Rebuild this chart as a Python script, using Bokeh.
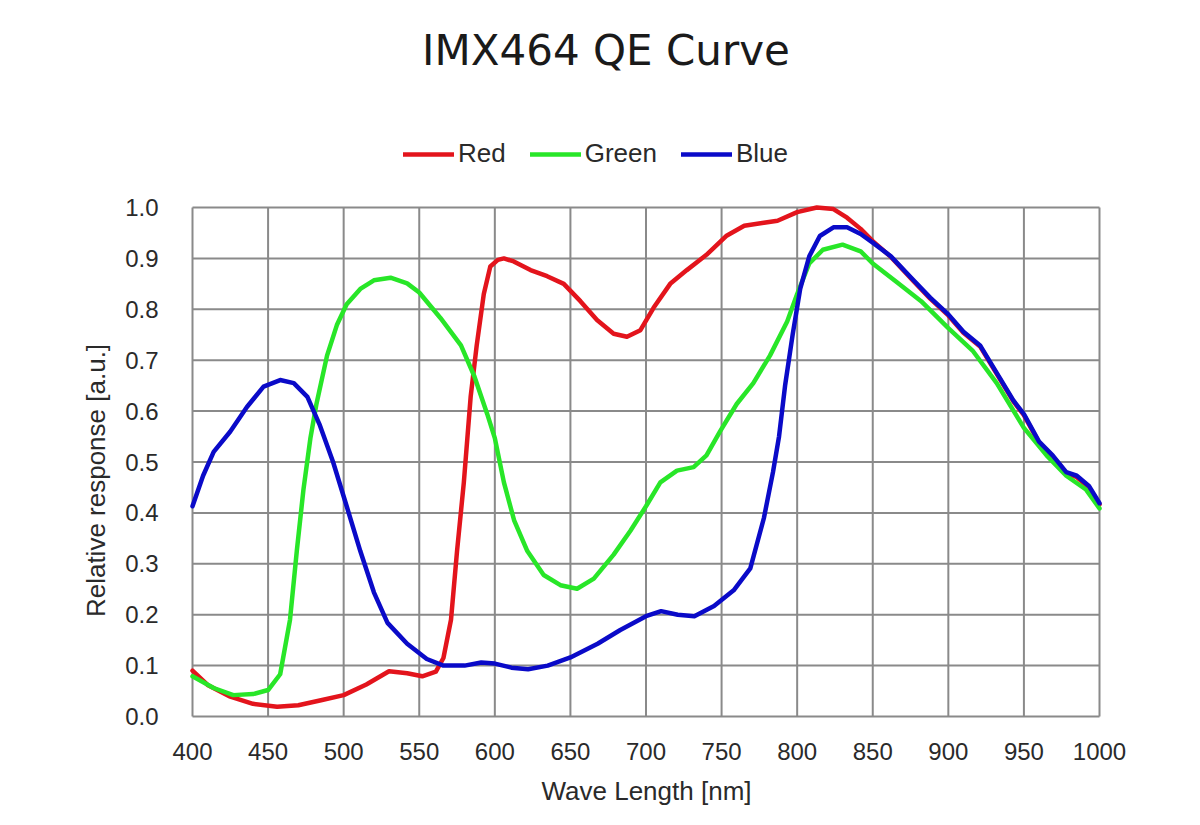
import math
from bokeh.plotting import figure
from bokeh.models import Range1d, Legend, LegendItem, ColumnDataSource
from bokeh.embed import file_html
from bokeh.resources import INLINE

title_text = "IMX464 QE Curve"
x_label = "Wave Length [nm]"
y_label = "Relative response [a.u.]"
x_ticks = [400, 450, 500, 550, 600, 650, 700, 750, 800, 850, 900, 950, 1000]
y_ticks = [0.0, 0.1, 0.2, 0.3, 0.4, 0.5, 0.6, 0.7, 0.8, 0.9, 1.0]

red_nm = [400, 410, 425, 440, 456, 470, 485, 500, 515, 530, 542, 552, 561, 566, 571, 575,
          579.5, 584, 588, 592.7, 597, 602, 606, 612.5, 623.6, 634.6, 645.6, 656.6, 667.6,
          678.6, 687.4, 696.3, 705, 716, 727, 740, 753, 765, 778, 787, 800, 813, 824, 833,
          842, 850, 862, 877, 888, 900, 910, 921, 932, 943, 950, 960, 969, 978, 985, 993, 1000]
red_qe = [0.09, 0.062, 0.039, 0.025, 0.019, 0.022, 0.032, 0.042, 0.063, 0.089, 0.085, 0.079,
          0.088, 0.115, 0.19, 0.325, 0.46, 0.628, 0.729, 0.83, 0.884, 0.897, 0.9, 0.894, 0.877,
          0.865, 0.85, 0.816, 0.779, 0.752, 0.746, 0.759, 0.803, 0.85, 0.877, 0.907, 0.944,
          0.964, 0.97, 0.974, 0.991, 1.0, 0.997, 0.98, 0.958, 0.934, 0.903, 0.855, 0.821,
          0.788, 0.754, 0.727, 0.673, 0.619, 0.592, 0.538, 0.511, 0.478, 0.47, 0.45, 0.417]

green_nm = [400, 414, 427, 440, 450, 458, 464.5, 469, 473.4, 478, 482, 489, 495.5, 502, 511,
            520, 531, 542, 550, 564, 577.6, 586.5, 595, 600, 606, 612.7, 621.5, 632.3, 643.4,
            654.4, 665.5, 678.6, 689.7, 700, 709.5, 720.5, 731.5, 740, 749, 760, 771, 782,
            793.4, 800, 808, 817, 830, 842, 850, 866, 882, 900, 916, 932, 950, 965, 978, 991, 1000]
green_qe = [0.079, 0.056, 0.042, 0.044, 0.052, 0.083, 0.19, 0.325, 0.446, 0.547, 0.614, 0.709,
            0.769, 0.81, 0.84, 0.857, 0.862, 0.851, 0.833, 0.783, 0.729, 0.668, 0.594, 0.547,
            0.46, 0.386, 0.325, 0.278, 0.258, 0.251, 0.271, 0.318, 0.365, 0.413, 0.46, 0.483,
            0.49, 0.513, 0.56, 0.614, 0.655, 0.709, 0.776, 0.83, 0.89, 0.917, 0.927, 0.914,
            0.89, 0.853, 0.816, 0.763, 0.719, 0.655, 0.567, 0.513, 0.473, 0.446, 0.409]

blue_nm = [400, 407, 414, 425, 436, 447, 458, 467, 476, 484, 493, 502, 511, 520, 529, 542,
           555, 566, 580, 591, 600, 611, 622, 635, 650, 668, 683, 700, 710, 721, 732, 745,
           758, 769, 778, 784, 788, 792, 797, 802, 808, 815, 824, 833, 842, 850, 862, 877,
           888, 900, 910, 921, 932, 943, 950, 960, 969, 978, 985, 993, 1000]
blue_qe = [0.413, 0.473, 0.52, 0.56, 0.608, 0.648, 0.661, 0.655, 0.628, 0.574, 0.5, 0.413,
           0.325, 0.244, 0.184, 0.143, 0.113, 0.1, 0.1, 0.106, 0.104, 0.096, 0.093, 0.1, 0.116,
           0.143, 0.17, 0.197, 0.207, 0.2, 0.197, 0.217, 0.248, 0.291, 0.39, 0.48, 0.55, 0.65,
           0.75, 0.84, 0.904, 0.944, 0.961, 0.961, 0.948, 0.931, 0.904, 0.857, 0.823, 0.79,
           0.756, 0.729, 0.675, 0.621, 0.594, 0.54, 0.513, 0.48, 0.473, 0.453, 0.419]

series = [("Red", red_nm, red_qe, "#e3141c"),
          ("Green", green_nm, green_qe, "#28e628"),
          ("Blue", blue_nm, blue_qe, "#0a0ac8")]

# ---- layout (canvas pixels) ----
W, H = 1184, 809
PL, PR, PT, PB = 192, 1099, 207, 716          # plot box in canvas pixels
X0, X1 = x_ticks[0], x_ticks[-1]
Y0, Y1 = y_ticks[0], y_ticks[-1]
kx = (X1 - X0) / (PR - PL)
ky = (Y1 - Y0) / (PB - PT)


def sx(px):
    return X0 + (px - PL) * kx


def sy(py):
    return Y0 + (PB - py) * ky


p = figure(width=W, height=H, output_backend="svg", toolbar_location=None,
           x_range=Range1d(sx(0), sx(W)), y_range=Range1d(sy(H), sy(0)),
           x_axis_location=None, y_axis_location=None, min_border=0)
p.background_fill_color = "white"
p.border_fill_color = "white"
p.outline_line_color = None
p.xgrid.visible = False
p.ygrid.visible = False

GRID = "#8a8a8a"
TXT = "#2a2a2a"
# grid / plot box
p.segment(x0=[X0] * len(y_ticks), y0=y_ticks, x1=[X1] * len(y_ticks), y1=y_ticks,
          line_color=GRID, line_width=2)
p.segment(x0=x_ticks, y0=[Y0] * len(x_ticks), x1=x_ticks, y1=[Y1] * len(x_ticks),
          line_color=GRID, line_width=2)

# tick labels
p.text(x=x_ticks, y=[sy(751)] * len(x_ticks), text=[str(t) for t in x_ticks],
       text_align="center", text_baseline="middle", text_font={"value": "Liberation Sans"},
       text_font_size="24px", text_color=TXT)
p.text(x=[sx(158)] * len(y_ticks), y=y_ticks, text=["%.1f" % t for t in y_ticks],
       text_align="right", text_baseline="middle", text_font={"value": "Liberation Sans"},
       text_font_size="24px", text_color=TXT)

# axis labels
p.text(x=[sx(646)], y=[sy(790)], text=[x_label], text_align="center",
       text_baseline="middle", text_font={"value": "Liberation Sans"},
       text_font_size="26px", text_color=TXT)
p.text(x=[sx(95)], y=[sy(480)], text=[y_label], angle=math.pi / 2, text_align="center",
       text_baseline="middle", text_font={"value": "Liberation Sans"},
       text_font_size="26px", text_color=TXT)

# title
p.text(x=[sx(605.5)], y=[sy(50)], text=[title_text], text_align="center",
       text_baseline="alphabetic", text_font={"value": "DejaVu Sans"},
       text_font_size="42px", text_color="#1a1a1a")

items = []
for name, xs, ys, col in series:
    src = ColumnDataSource(dict(x=xs, y=ys))
    r = p.line("x", "y", source=src, line_color=col, line_width=4.5,
               line_join="round", line_cap="round")
    items.append(LegendItem(label=name, renderers=[r]))

legend = Legend(items=items, orientation="horizontal", location=(403, H - 169),
                label_text_font="Liberation Sans", label_text_font_size="26px",
                label_text_color=TXT, glyph_width=51, glyph_height=26,
                label_height=26, label_standoff=4, spacing=24, padding=0, margin=0,
                border_line_alpha=0, background_fill_alpha=0)
p.add_layout(legend, "center")

open("out.html", "w").write(file_html(p, INLINE))
